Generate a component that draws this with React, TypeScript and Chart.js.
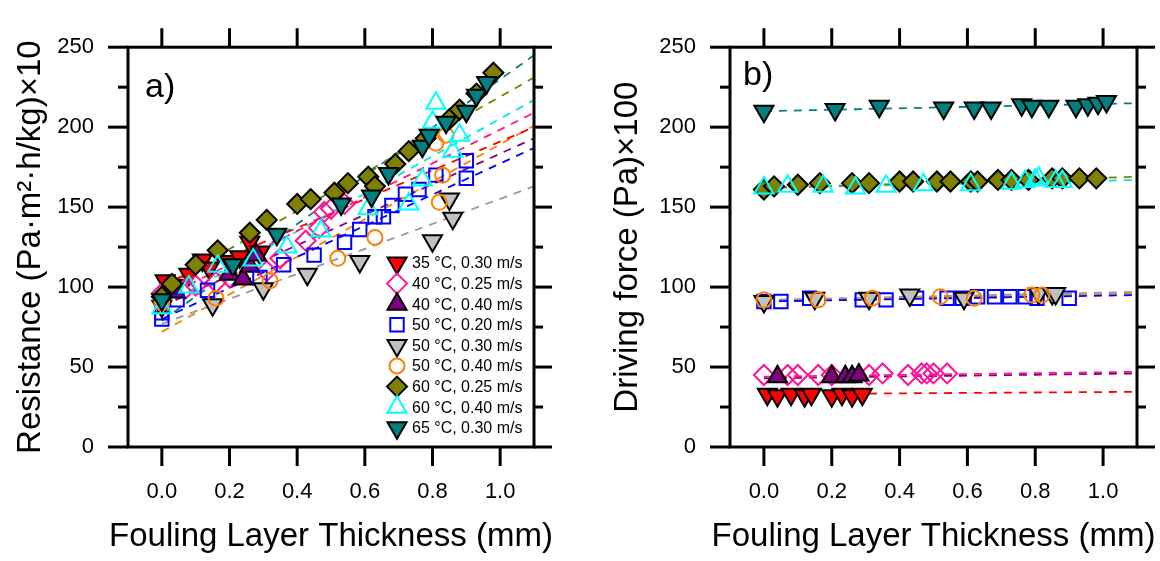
import React, { useEffect, useRef } from 'react';
import { Chart, registerables } from 'chart.js';
import { drawPoint } from 'chart.js/helpers';

Chart.register(...registerables);

const FONT = "'Liberation Sans', Arial, sans-serif";

// ---------- common ----------
const seriesLabels = [
  '35 °C, 0.30 m/s',
  '40 °C, 0.25 m/s',
  '40 °C, 0.40 m/s',
  '50 °C, 0.20 m/s',
  '50 °C, 0.30 m/s',
  '50 °C, 0.40 m/s',
  '60 °C, 0.25 m/s',
  '60 °C, 0.40 m/s',
  '65 °C, 0.30 m/s',
];
const xTitle = 'Fouling Layer Thickness (mm)';
const xTickValues = [0, 0.2, 0.4, 0.6, 0.8, 1.0];
const yMajorTicks = [0, 50, 100, 150, 200, 250];
const yMinorTicks = [25, 75, 125, 175, 225];
const fitX = [0, 1.1];

// ---------- panel a: resistance ----------
const aRedX = [0.01, 0.04, 0.08, 0.12, 0.14, 0.2, 0.23, 0.26, 0.29];
const aRedY = [104, 101, 108, 117, 112, 116, 119, 128, 122];
const aPinkX = [0.0, 0.07, 0.1, 0.16, 0.2, 0.31, 0.35, 0.425, 0.465, 0.48, 0.5, 0.54];
const aPinkY = [96, 99, 101, 103, 106, 110, 118, 129, 137, 147, 149, 152];
const aPurpleX = [0.04, 0.2, 0.24, 0.26, 0.28];
const aPurpleY = [97, 108, 105, 113, 120];
const aBlueX = [0.0, 0.0, 0.045, 0.135, 0.29, 0.36, 0.45, 0.54, 0.585, 0.63, 0.655, 0.68, 0.72, 0.76, 0.81, 0.9, 0.9];
const aBlueY = [80, 84, 92, 98, 106, 114, 120, 128, 136, 144, 144, 151, 158, 161, 170, 168, 179];
const aGrayX = [0.0, 0.15, 0.3, 0.43, 0.585, 0.8, 0.86, 0.85];
const aGrayY = [88, 89, 99, 108, 116, 129, 143, 155];
const aOrangeX = [0.0, 0.16, 0.32, 0.52, 0.63, 0.82, 0.83, 0.81, 0.84];
const aOrangeY = [90, 93, 104, 118, 131, 153, 170, 190, 195];
const aOliveX = [0.0, 0.03, 0.1, 0.165, 0.26, 0.31, 0.4, 0.44, 0.51, 0.55, 0.61, 0.63, 0.69, 0.73, 0.78, 0.85, 0.88, 0.93, 0.98];
const aOliveY = [94, 102, 114, 123, 134, 142, 152, 155, 159, 165, 169, 163, 177, 185, 193, 205, 211, 221, 234];
const aCyanX = [0.0, 0.08, 0.165, 0.27, 0.37, 0.47, 0.61, 0.73, 0.77, 0.8, 0.81, 0.86, 0.88];
const aCyanY = [87, 100, 113, 117, 125, 135, 149, 152, 167, 203, 215, 185, 195];
const aTealX = [0.0, 0.21, 0.34, 0.53, 0.62, 0.67, 0.77, 0.79, 0.84, 0.9, 0.93, 0.96];
const aTealY = [92, 114, 133, 152, 157, 171, 188, 195, 203, 210, 220, 228];
const aFitStart = [101, 93, 88, 80, 77, 72, 100, 88, 79];
const aFitEnd = [200, 209, 193, 187, 163, 201, 231, 217, 245];

// ---------- panel b: driving force ----------
const bRedX = [0.01, 0.04, 0.08, 0.12, 0.14, 0.2, 0.23, 0.26, 0.29];
const bRedY = [33, 32, 33, 32, 33, 32, 33, 32, 33];
const bPinkX = [0.0, 0.07, 0.1, 0.16, 0.2, 0.31, 0.35, 0.425, 0.465, 0.48, 0.5, 0.54];
const bPinkY = [45, 45, 45, 45, 45, 45, 46, 45, 46, 46, 46, 46];
const bPurpleX = [0.04, 0.2, 0.24, 0.26, 0.28];
const bPurpleY = [44, 44, 44, 44, 45];
const bBlueX = [0.0, 0.05, 0.135, 0.29, 0.36, 0.45, 0.54, 0.585, 0.63, 0.68, 0.725, 0.77, 0.805, 0.9];
const bBlueY = [91, 91, 93, 92, 92, 93, 93, 93, 94, 94, 94, 94, 93, 93];
const bGrayX = [0.0, 0.15, 0.31, 0.43, 0.59, 0.81, 0.85, 0.86];
const bGrayY = [91, 93, 93, 95, 93, 96, 96, 96];
const bOrangeX = [0.0, 0.16, 0.32, 0.52, 0.62, 0.79, 0.82];
const bOrangeY = [92, 92, 93, 94, 93, 95, 95];
const bOliveX = [0.0, 0.03, 0.1, 0.165, 0.26, 0.31, 0.4, 0.44, 0.51, 0.55, 0.61, 0.63, 0.69, 0.73, 0.78, 0.85, 0.88, 0.93, 0.98];
const bOliveY = [161, 163, 164, 165, 165, 165, 166, 166, 166, 166, 166, 166, 167, 167, 167, 168, 168, 168, 168];
const bCyanX = [0.0, 0.07, 0.175, 0.27, 0.36, 0.47, 0.61, 0.73, 0.77, 0.8, 0.81, 0.86, 0.88];
const bCyanY = [162, 163, 163, 162, 163, 164, 164, 165, 166, 167, 168, 166, 166];
const bTealX = [0.0, 0.21, 0.34, 0.53, 0.62, 0.67, 0.76, 0.79, 0.84, 0.92, 0.955, 0.985, 1.01];
const bTealY = [210, 211, 213, 212, 212, 212, 214, 213, 213, 213, 214, 215, 216];
const bFitStart = [33, 44, 43, 91, 92, 91, 162, 162, 210];
const bFitEnd = [34.5, 47, 46, 95, 97, 96, 169, 167, 215];

// ---------- styles ----------
const TRANSPARENT = 'rgba(0,0,0,0)';
const markerStyles = [
  { style: 'triangle', rotation: 180, radius: 11, fill: '#ff0000', stroke: '#000000' },
  { style: 'rectRot', rotation: 0, radius: 10, fill: TRANSPARENT, stroke: '#ff1493' },
  { style: 'triangle', rotation: 0, radius: 11, fill: '#800080', stroke: '#000000' },
  { style: 'rect', rotation: 0, radius: 9.5, fill: TRANSPARENT, stroke: '#0000ff' },
  { style: 'triangle', rotation: 180, radius: 11, fill: '#c0c0c0', stroke: '#000000' },
  { style: 'circle', rotation: 0, radius: 7.5, fill: TRANSPARENT, stroke: '#ff8000' },
  { style: 'rectRot', rotation: 0, radius: 10, fill: '#808000', stroke: '#000000' },
  { style: 'triangle', rotation: 0, radius: 11, fill: TRANSPARENT, stroke: '#00ffff' },
  { style: 'triangle', rotation: 180, radius: 11, fill: '#008080', stroke: '#000000' },
];
const fitColors = ['#ff0000', '#ff1493', '#800080', '#0000ff', '#999999', '#ff8000', '#808000', '#00e5e5', '#008080'];

const W = 580;
const H = 561;
const PLOT_TOP = 32;
const PLOT_BOTTOM = 447;

function zip(xs: number[], ys: number[]) {
  return xs.map((x, i) => ({ x, y: ys[i] }));
}

function buildDatasets(xs: number[][], ys: number[][], fs: number[], fe: number[]) {
  const fits = fs.map((s, i) => ({
    type: 'scatter' as const,
    label: 'fit ' + seriesLabels[i],
    data: zip(fitX, [s, fe[i]]),
    showLine: true,
    borderColor: fitColors[i],
    borderWidth: 1.8,
    borderDash: [8, 7],
    pointRadius: 0,
    order: 200 + i,
  }));
  const pts = xs.map((xArr, i) => {
    const m = markerStyles[i];
    return {
      type: 'scatter' as const,
      label: seriesLabels[i],
      data: zip(xArr, ys[i]),
      pointStyle: m.style,
      pointRotation: m.rotation,
      pointRadius: m.radius,
      pointHoverRadius: m.radius,
      pointBackgroundColor: m.fill,
      pointBorderColor: m.stroke,
      pointBorderWidth: 2,
      order: 100 - i,
    };
  });
  return [...fits, ...pts];
}

const frameTicksPlugin = {
  id: 'frameTicks',
  afterDatasetsDraw(chart: any) {
    const { ctx, chartArea } = chart;
    const { left, right, top, bottom } = chartArea;
    const xs = chart.scales.x;
    const ys = chart.scales.y;
    ctx.save();
    ctx.strokeStyle = '#000';
    ctx.lineWidth = 3;
    ctx.lineCap = 'butt';
    const line = (x1: number, y1: number, x2: number, y2: number) => {
      ctx.beginPath();
      ctx.moveTo(x1, y1);
      ctx.lineTo(x2, y2);
      ctx.stroke();
    };
    xTickValues.forEach((v) => {
      const px = xs.getPixelForValue(v);
      line(px, bottom, px, bottom + 19);
      line(px, top, px, top - 19);
    });
    yMajorTicks.forEach((v) => {
      const py = ys.getPixelForValue(v);
      line(left - 20, py, left, py);
      line(right, py, right + 18, py);
    });
    yMinorTicks.forEach((v) => {
      const py = ys.getPixelForValue(v);
      line(left - 10, py, left, py);
      line(right, py, right + 9, py);
    });
    ctx.strokeRect(left, top, right - left, bottom - top);
    ctx.restore();
  },
};

const annotPlugin = {
  id: 'annot',
  afterDraw(chart: any, _args: any, opts: any) {
    const { ctx, chartArea } = chart;
    ctx.save();
    ctx.fillStyle = '#000';
    ctx.font = `34px ${FONT}`;
    ctx.textBaseline = 'alphabetic';
    ctx.textAlign = 'left';
    ctx.fillText(opts.label, chartArea.left + opts.dx, chartArea.top + opts.dy);
    // x-axis title (drawn here so it is not squeezed to the plot width)
    ctx.font = `33px ${FONT}`;
    ctx.textAlign = 'center';
    ctx.textBaseline = 'middle';
    ctx.fillText(xTitle, (chartArea.left + chartArea.right) / 2, 537);
    if (opts.legend) {
      const lg = opts.legend;
      ctx.font = `16px ${FONT}`;
      ctx.textAlign = 'left';
      ctx.textBaseline = 'middle';
      seriesLabels.forEach((lab, i) => {
        const m = markerStyles[i];
        const y = lg.y + i * lg.step;
        ctx.save();
        ctx.fillStyle = m.fill;
        ctx.strokeStyle = m.stroke;
        ctx.lineWidth = 2;
        drawPoint(ctx, { pointStyle: m.style, rotation: m.rotation, radius: m.radius, borderWidth: 2 } as any, lg.x, y);
        ctx.restore();
        ctx.fillStyle = '#000';
        ctx.fillText(lab, lg.textX, y + 1);
      });
    }
    ctx.restore();
  },
};

function makeConfig(p: {
  xs: number[][];
  ys: number[][];
  fs: number[];
  fe: number[];
  plotLeft: number;
  plotRight: number;
  yTitle: string;
  yTitlePad: number;
  label: string;
  labelDx: number;
  labelDy: number;
  legend?: any;
}): any {
  return {
    type: 'scatter',
    data: { datasets: buildDatasets(p.xs, p.ys, p.fs, p.fe) },
    options: {
      responsive: false,
      animation: false,
      devicePixelRatio: 1,
      events: [],
      layout: { padding: { left: 0, top: PLOT_TOP, right: W - p.plotRight, bottom: 0 } },
      plugins: {
        legend: { display: false },
        tooltip: { enabled: false },
        annot: { label: p.label, dx: p.labelDx, dy: p.labelDy, legend: p.legend },
      },
      scales: {
        x: {
          type: 'linear',
          min: -0.1,
          max: 1.1,
          afterBuildTicks: (s: any) => {
            s.ticks = xTickValues.map((v) => ({ value: v }));
          },
          afterFit: (s: any) => {
            s.height = H - PLOT_BOTTOM;
          },
          grid: { display: false, drawTicks: false },
          border: { display: false },
          ticks: {
            color: '#000',
            padding: 32,
            autoSkip: false,
            maxRotation: 0,
            font: { family: FONT, size: 22 },
            callback: (v: any) => Number(v).toFixed(1),
          },
          title: { display: false },
        },
        y: {
          type: 'linear',
          min: 0,
          max: 250,
          afterBuildTicks: (s: any) => {
            s.ticks = yMajorTicks.map((v) => ({ value: v }));
          },
          afterFit: (s: any) => {
            s.width = p.plotLeft;
          },
          grid: { display: false, drawTicks: false },
          border: { display: false },
          ticks: {
            color: '#000',
            padding: 34,
            autoSkip: false,
            font: { family: FONT, size: 22 },
          },
          title: {
            display: true,
            text: p.yTitle,
            color: '#000',
            font: { family: FONT, size: 33 },
            padding: { top: p.yTitlePad, bottom: 0 },
          },
        },
      },
    },
    plugins: [frameTicksPlugin, annotPlugin],
  };
}

function ChartCanvas({ config, left }: { config: () => any; left: number }) {
  const ref = useRef<HTMLCanvasElement | null>(null);
  useEffect(() => {
    if (!ref.current) return;
    const chart = new Chart(ref.current, config());
    return () => chart.destroy();
  }, []);
  return (
    <canvas
      ref={ref}
      width={W}
      height={H}
      style={{ position: 'absolute', left, top: 0, width: W, height: H }}
    />
  );
}

export default function App() {
  const cfgA = () =>
    makeConfig({
      xs: [aRedX, aPinkX, aPurpleX, aBlueX, aGrayX, aOrangeX, aOliveX, aCyanX, aTealX],
      ys: [aRedY, aPinkY, aPurpleY, aBlueY, aGrayY, aOrangeY, aOliveY, aCyanY, aTealY],
      fs: aFitStart,
      fe: aFitEnd,
      plotLeft: 128,
      plotRight: 534,
      yTitle: 'Resistance (Pa·m²·h/kg)×10',
      yTitlePad: 11,
      label: 'a)',
      labelDx: 17,
      labelDy: 50,
      legend: { x: 397, textX: 412, y: 263, step: 20.6 },
    });
  const cfgB = () =>
    makeConfig({
      xs: [bRedX, bPinkX, bPurpleX, bBlueX, bGrayX, bOrangeX, bOliveX, bCyanX, bTealX],
      ys: [bRedY, bPinkY, bPurpleY, bBlueY, bGrayY, bOrangeY, bOliveY, bCyanY, bTealY],
      fs: bFitStart,
      fe: bFitEnd,
      plotLeft: 150,
      plotRight: 557,
      yTitle: 'Driving force (Pa)×100',
      yTitlePad: 28,
      label: 'b)',
      labelDx: 13,
      labelDy: 38,
    });
  return (
    <div style={{ position: 'fixed', left: 0, top: 0, width: 1160, height: 561, background: '#fff', overflow: 'hidden' }}>
      <ChartCanvas config={cfgA} left={0} />
      <ChartCanvas config={cfgB} left={580} />
    </div>
  );
}
